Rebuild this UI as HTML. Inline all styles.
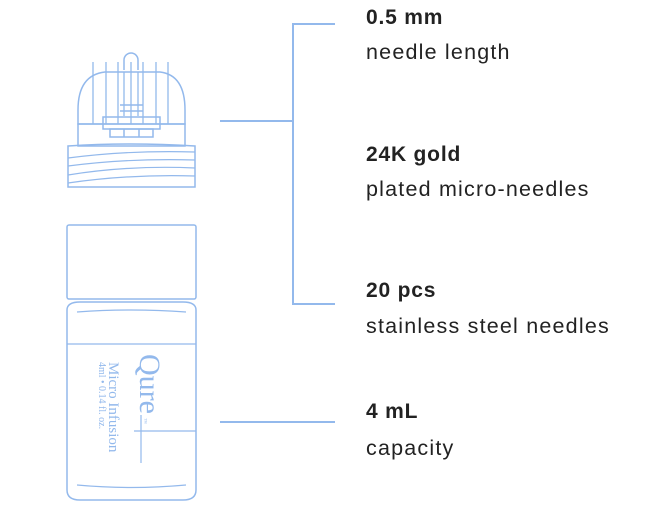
<!DOCTYPE html>
<html><head><style>
body{margin:0;background:#fff;width:662px;height:508px;overflow:hidden}
.t{position:absolute;left:366px;font-family:"Liberation Sans",sans-serif;color:#222;white-space:nowrap}
.b{font-weight:bold;font-size:21px;letter-spacing:0.8px}
.n{font-size:21.5px;letter-spacing:1.2px}
</style></head><body>
<svg width="662" height="508" style="position:absolute;left:0;top:0" fill="none" stroke="#93b9ec" stroke-width="1.5">
<path d="M335 24H293V304H335M220 121H293M220 422H335" stroke-width="2"/>
<path d="M124 70V60a7 7 0 0 1 14 0V70"/>
<path d="M78 124V110Q78 75 105 72H160Q185 75 185 110V124Z"/>
<path d="M78 124H185V146H78Z"/>
<g stroke-width="1.3"><path d="M93 62V124M106 62V124M118 62V124M131 62V124M143 62V124M156 62V124M168 62V124M124 72V116M138 72V116"/></g>
<rect x="103" y="117" width="57" height="12"/>
<rect x="110" y="129" width="43" height="8"/>
<path d="M124 129V137M139 129V137M120 105H143M120 111H143"/>
<path d="M68 146Q130 142 195 146V187H68Z"/>
<path d="M68 158Q130 150 195 152M68 166Q130 158 195 160M68 175Q130 165 195 168M68 183Q130 174 195 176" stroke-width="1.2"/>
<rect x="67" y="225" width="129" height="74" rx="2"/>
<path d="M67 310Q67 302 80 302H183Q196 302 196 310V490Q196 500 183 500H80Q67 500 67 490Z"/>
<path d="M77 312Q131 308 186 312M77 485Q131 490 186 485M67 344H196M134 431H196M141 415V463" stroke-width="1.2"/>
<g fill="#93b9ec" stroke="none" font-family="Liberation Serif,serif">
<text transform="translate(140 354) rotate(90)" font-size="30">Qure</text>
<text transform="translate(143 418) rotate(90)" font-size="6">™</text>
<text transform="translate(109 362) rotate(90)" font-size="15">Micro Infusion</text>
<text transform="translate(99 362) rotate(90)" font-size="10">4ml • 0.14 fl. oz.</text>
</g>
</svg>
<div class="t b" style="top:6px">0.5 mm</div>
<div class="t n" style="top:40px">needle length</div>
<div class="t b" style="top:143px">24K gold</div>
<div class="t n" style="top:177px">plated micro-needles</div>
<div class="t b" style="top:279px">20 pcs</div>
<div class="t n" style="top:314px">stainless steel needles</div>
<div class="t b" style="top:400px">4 mL</div>
<div class="t n" style="top:436px">capacity</div>
</body></html>
